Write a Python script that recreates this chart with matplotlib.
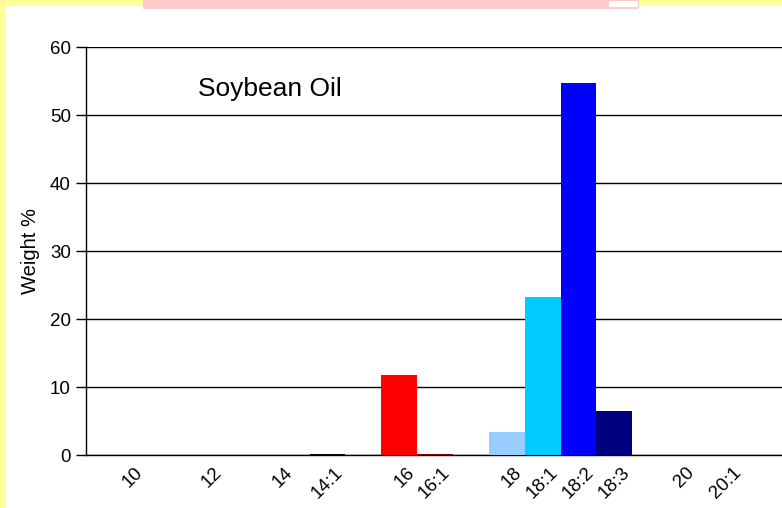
import matplotlib
matplotlib.use("Agg")
import matplotlib.pyplot as plt
from matplotlib.patches import Rectangle
from matplotlib.transforms import ScaledTranslation

# ---- data ----
categories = ["10", "12", "14", "14:1", "16", "16:1", "18", "18:1", "18:2", "18:3", "20", "20:1"]
weights = [0.0, 0.0, 0.0, 0.15, 11.75, 0.15, 3.45, 23.25, 54.75, 6.45, 0.0, 0.0]
bar_colors = ["#000000", "#000000", "#000000", "#000000", "#FF0000", "#800000",
              "#99CCFF", "#00CCFF", "#0000FF", "#000080", "#000000", "#000000"]
# slot positions along the category axis (layout)
positions = [1.15, 3.38, 5.34, 6.74, 8.74, 9.74, 11.74, 12.74, 13.74, 14.74, 16.54, 17.85]
y_ticks = [0, 10, 20, 30, 40, 50, 60]

W, H = 782, 508
plt.rcParams['font.family'] = ['Liberation Sans', 'DejaVu Sans']
fig = plt.figure(figsize=(W / 100, H / 100), dpi=100)
fig.patch.set_facecolor("white")

def fx(px):
    return px / W

def fy(py):
    return 1 - py / H

# decorative frame pieces
fig.add_artist(Rectangle((0, fy(508)), fx(6), 1, transform=fig.transFigure,
                         facecolor="#FFFF99", edgecolor="none"))
fig.add_artist(Rectangle((0, fy(6)), 1, 6 / H, transform=fig.transFigure,
                         facecolor="#FFFF99", edgecolor="none"))
fig.add_artist(Rectangle((fx(143), fy(9)), fx(638 - 143), 9 / H, transform=fig.transFigure,
                         facecolor="#FFCCCC", edgecolor="none"))
fig.add_artist(Rectangle((fx(608), fy(7)), fx(30), 7 / H, transform=fig.transFigure,
                         facecolor="white", edgecolor="#FFCCCC", linewidth=0.8))

ax = fig.add_axes([fx(86), fy(455), 1 - fx(86) + 0.001, (455 - 47) / H])
ax.set_facecolor("white")
ax.bar(positions, weights, width=1.0, color=bar_colors, zorder=3)

ax.set_xlim(0, (782 - 86) / 35.8)
ax.set_ylim(0, 60)
ax.set_yticks(y_ticks)
ax.set_yticklabels([str(t) for t in y_ticks], fontsize=13.5)
ax.yaxis.grid(True, color="#000000", linewidth=1.0, zorder=1)
ax.set_axisbelow(True)
ax.tick_params(axis="y", direction="out", length=7, width=1, pad=4, color="black")

ax.set_xticks(positions)
ax.set_xticklabels(categories, fontsize=13.5, rotation=45, ha="right", va="center",
                   rotation_mode="anchor")
ax.tick_params(axis="x", length=0, pad=11)
offset = ScaledTranslation(0.125, 0, fig.dpi_scale_trans)
for lbl in ax.get_xticklabels():
    lbl.set_transform(lbl.get_transform() + offset)

for s in ["top", "right"]:
    ax.spines[s].set_visible(False)
ax.spines["left"].set_color("black")
ax.spines["bottom"].set_color("black")
ax.spines["left"].set_linewidth(1)
ax.spines["bottom"].set_linewidth(1)

ax.set_ylabel("Weight %", fontsize=14.5, labelpad=7)

fig.text(fx(198), fy(96), "Soybean Oil", fontsize=19, ha="left", va="baseline")

fig.savefig("out.png", dpi=100)
